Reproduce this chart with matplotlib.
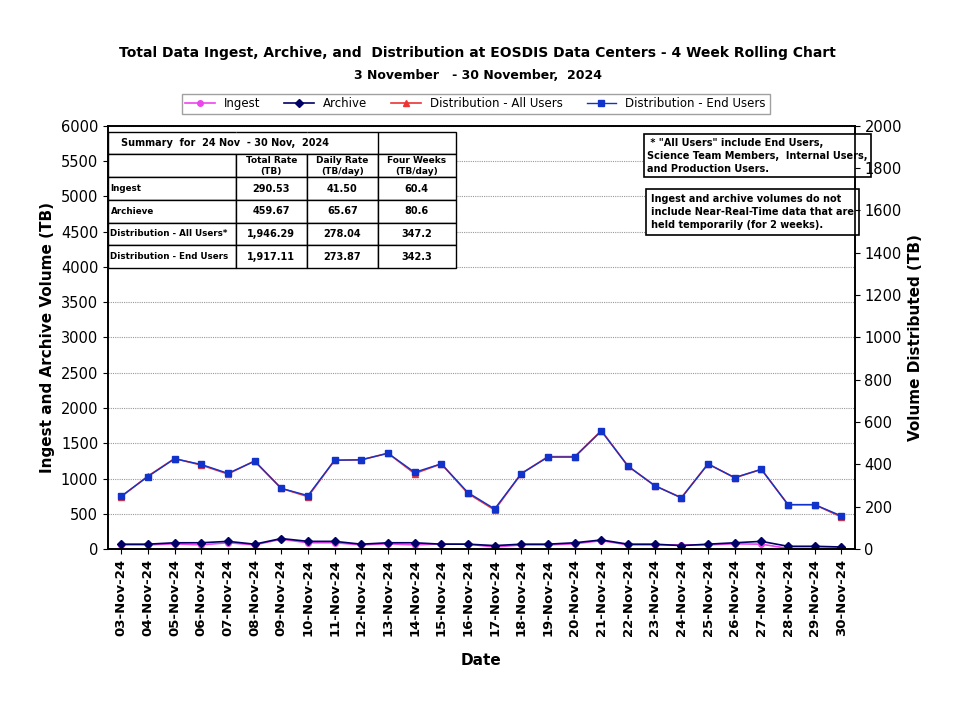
import matplotlib.pyplot as plt

dates = ['03-Nov-24', '04-Nov-24', '05-Nov-24', '06-Nov-24', '07-Nov-24', '08-Nov-24', '09-Nov-24',
         '10-Nov-24', '11-Nov-24', '12-Nov-24', '13-Nov-24', '14-Nov-24', '15-Nov-24', '16-Nov-24',
         '17-Nov-24', '18-Nov-24', '19-Nov-24', '20-Nov-24', '21-Nov-24', '22-Nov-24', '23-Nov-24',
         '24-Nov-24', '25-Nov-24', '26-Nov-24', '27-Nov-24', '28-Nov-24', '29-Nov-24', '30-Nov-24']
ingest = [60, 60, 75, 60, 90, 60, 140, 90, 90, 60, 75, 60, 75, 70, 30, 60, 60, 75, 120, 60,
          60, 60, 60, 75, 70, 10, 10, 10]
archive = [70, 70, 90, 90, 110, 70, 150, 110, 110, 70, 90, 90, 70, 70, 50, 70, 70, 90, 130, 70,
           70, 50, 70, 90, 110, 40, 40, 30]
dist_all = [248, 345, 428, 397, 355, 417, 287, 248, 420, 422, 453, 357, 403, 263, 185, 357, 437,
            437, 560, 392, 300, 243, 403, 337, 377, 210, 210, 152]
dist_end = [250, 343, 427, 400, 358, 415, 287, 253, 420, 422, 453, 363, 403, 267, 190, 357, 435,
            435, 558, 392, 300, 242, 402, 338, 377, 210, 210, 157]

summary_rows = ['Ingest', 'Archieve', 'Distribution - All Users*', 'Distribution - End Users']
summary_cols = ['Total Rate\n(TB)', 'Daily Rate\n(TB/day)', 'Four Weeks\n(TB/day)']
summary_vals = [['290.53', '41.50', '60.4'],
                ['459.67', '65.67', '80.6'],
                ['1,946.29', '278.04', '347.2'],
                ['1,917.11', '273.87', '342.3']]

fig = plt.figure(figsize=(9.55, 7.15), dpi=100)
ax = fig.add_axes([0.113, 0.232, 0.782, 0.592])
ax2 = ax.twinx()
x = list(range(len(dates)))

l1, = ax.plot(x, ingest, color='#ee44ee', marker='o', ms=4, lw=1.2, label='Ingest')
l2, = ax.plot(x, archive, color='#000066', marker='D', ms=4, lw=1.2, label='Archive')
l3, = ax2.plot(x, dist_all, color='#ee3333', marker='^', ms=5, lw=1.2, label='Distribution - All Users')
l4, = ax2.plot(x, dist_end, color='#1133cc', marker='s', ms=5, lw=1.0, label='Distribution - End Users')

ax.set_ylim(0, 6000)
ax.set_yticks(range(0, 6001, 500))
ax2.set_ylim(0, 2000)
ax2.set_yticks(range(0, 2001, 200))
ax.set_xlim(-0.5, len(dates) - 0.5)
ax.set_xticks(x)
ax.set_xticklabels(dates, rotation=90, fontweight='bold', fontsize=9.5)
ax.tick_params(axis='y', labelsize=10.5)
ax2.tick_params(axis='y', labelsize=10.5)
ax.yaxis.grid(True, color='#999999', ls=(0, (1, 1)), lw=0.8)
ax.set_ylabel('Ingest and Archive Volume (TB)', fontsize=11, fontweight='bold')
ax2.set_ylabel('Volume Distributed (TB)', fontsize=11, fontweight='bold')
ax.set_xlabel('Date', fontsize=11, fontweight='bold', labelpad=12)
for a in (ax, ax2):
    for s in a.spines.values():
        s.set_linewidth(1.2)

fig.text(0.5, 0.92, 'Total Data Ingest, Archive, and  Distribution at EOSDIS Data Centers - 4 Week Rolling Chart',
         ha='center', fontsize=10, fontweight='bold')
fig.text(0.5, 0.89, '3 November   - 30 November,  2024', ha='center', fontsize=9, fontweight='bold')
fig.legend(handles=[l1, l2, l3, l4], loc='center', bbox_to_anchor=(0.498, 0.855), ncol=4,
           fontsize=8.5, frameon=True, fancybox=False, edgecolor='#888888', handlelength=2.5,
           borderpad=0.3, columnspacing=2)

cell_text = [['Summary  for  24 Nov  - 30 Nov,  2024', '', '', '']]
cell_text.append([''] + summary_cols)
for name, vals in zip(summary_rows, summary_vals):
    cell_text.append([name] + vals)
tbl = ax.table(cellText=cell_text, bbox=[0.0, 0.664, 0.466, 0.322],
               colWidths=[0.36, 0.2, 0.2, 0.22], cellLoc='center', zorder=5)
tbl.auto_set_font_size(False)
for (r, c), cell in tbl.get_celld().items():
    cell.set_facecolor('white')
    cell.set_linewidth(1.0)
    cell.get_text().set_fontweight('bold')
    cell.get_text().set_fontsize(6.5 if r == 1 else 7)
    if c == 0 and r > 1:
        cell.get_text().set_ha('left')
        cell.PAD = 0.02
        cell.get_text().set_fontsize(6.3)
    if r == 0:
        if c == 0:
            cell.visible_edges = 'LTB'
        elif c == 3:
            cell.visible_edges = 'LTRB'
        else:
            cell.visible_edges = 'TB'
cell0 = tbl[0, 0]
cell0.get_text().set_ha('left')
cell0.PAD = 0.1

ax.text(0.722, 0.972, ' * "All Users" include End Users,\nScience Team Members,  Internal Users,\nand Production Users.',
        transform=ax.transAxes, va='top', ha='left', fontsize=7, fontweight='bold', zorder=6,
        linespacing=1.4, bbox=dict(boxstyle='square,pad=0.35', fc='white', ec='black', lw=1.2))
ax.text(0.727, 0.84, 'Ingest and archive volumes do not\ninclude Near-Real-Time data that are\nheld temporarily (for 2 weeks).',
        transform=ax.transAxes, va='top', ha='left', fontsize=7, fontweight='bold', zorder=6,
        linespacing=1.4, bbox=dict(boxstyle='square,pad=0.5', fc='white', ec='black', lw=1.2))

fig.savefig('out.png', dpi=100)
